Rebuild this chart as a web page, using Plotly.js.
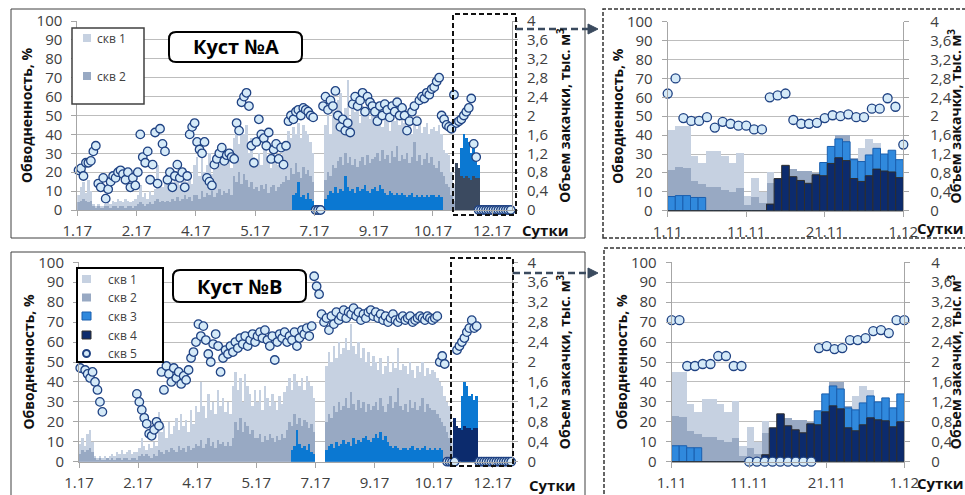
<!DOCTYPE html>
<html><head><meta charset="utf-8">
<script src="https://cdn.plot.ly/plotly-3.0.1.min.js"></script>
<style>html,body{margin:0;padding:0;background:#fff;}#chart{width:965px;height:495px;}</style>
</head><body><div id="chart"></div>
<script>
// ---------- DATA ----------
// Main charts: values per 2-day bin, injection in тыс. м3, water cut in %
const ticksMain = ['1.17','2.17','4.17','5.17','7.17','9.17','10.17','12.17'];
const ticksZoom = ['1.11','11.11','21.11','1.12'];

// Куст №A
const skv1_A = [.32,.48,.6,.36,.64,.4,.12,.08,.12,.08,.08,.12,
.16,.12,.2,.16,.24,.2,.16,.24,.2,.16,.2,.24,
.32,.52,.28,.36,.24,.4,.32,.44,.96,.56,.48,.64,
.56,.72,.48,.64,.8,.52,.68,.88,.6,.76,.56,.96,
1.12,.72,1.28,.8,.96,1.2,.76,1.04,.88,1.12,1,1.2,
.96,1.12,.88,1.52,1.76,1.4,1.68,1.6,1.8,1.2,1.52,1.12,
1.04,1.2,.96,1.36,1.52,1.12,.88,1.2,1.04,.96,1.12,1.28,
1.44,1.68,1.52,1.76,1.6,1.84,1.52,1.8,1.68,1.6,1.44,1.2,
0,0,0,0,1.8,2.08,1.6,2.2,1.92,2.32,2.48,2,
2.16,2.76,1.92,2.24,2.08,2.4,1.84,2.2,2,2.32,1.92,2.08,
2,1.84,2.16,1.76,2.08,1.92,1.68,2,1.88,2.12,1.8,1.96,
1.84,1.68,1.92,1.6,1.8,1.72,1.88,1.64,1.76,1.84,1.6,1.72,
1.76,1.68,1.8,1.6,1.28,1.2,1.16,.8,.56,0,0,0,
0,0,0,0,0,0,0,0,0,0,0,0,
0,0,0,0,0,0,0,0];
const skv2_A = [.16,.2,.24,.2,.16,.2,.08,.04,.08,.04,.04,.08,
.08,.04,.08,.08,.04,.08,.08,.04,.08,.08,.04,.08,
.12,.16,.12,.08,.12,.16,.12,.2,.24,.16,.2,.16,
.2,.16,.24,.2,.28,.2,.24,.32,.24,.28,.2,.32,
.32,.24,.4,.28,.36,.32,.4,.28,.36,.44,.32,.4,
.36,.44,.32,.72,.6,.8,.56,.76,.64,.48,.6,.44,
.48,.4,.52,.44,.56,.36,.48,.52,.4,.48,.56,.6,
.72,.64,.88,.76,1,.8,.68,.92,.76,.84,.72,.6,
0,0,0,0,.64,.8,.72,.96,.88,1.04,1.12,.96,
1.2,1,1.12,.96,1.08,.92,1.04,1.12,.96,1.16,1,1.08,
1.12,1.2,1.04,1.28,1.08,1.16,1,1.24,1.12,1.36,1.04,1.16,
1.08,1.2,1,1.12,1.44,1.04,1.16,.96,1.08,1.2,1,1.12,
.96,.88,1.04,.8,.72,.56,.48,.32,.2,0,0,0,
0,0,0,0,0,0,0,0,0,0,0,0,
0,0,0,0,0,0,0,0];
const skv3_A = [0,0,0,0,0,0,0,0,0,0,0,0,
0,0,0,0,0,0,0,0,0,0,0,0,
0,0,0,0,0,0,0,0,0,0,0,0,
0,0,0,0,0,0,0,0,0,0,0,0,
0,0,0,0,0,0,0,0,0,0,0,0,
0,0,0,0,0,0,0,0,0,0,0,0,
0,0,0,0,0,0,0,0,0,0,0,0,
0,0,0,.32,.36,.6,.28,.32,.24,.36,.24,.2,
0,0,0,0,.24,.32,.4,.36,.48,.36,.44,.4,
.72,.48,.4,.44,.36,.48,.4,.44,.52,.4,.36,.44,
.48,.4,.52,.44,.36,.32,.4,.36,.32,.36,.32,.36,
.32,.28,.32,.36,.28,.32,.28,.32,.28,.32,.28,.32,
.32,.28,.32,.28,0,0,0,0,0,0,0,1.32,
1.6,1.52,1.44,1.2,1.32,1.04,.96,0,0,0,0,0,
0,0,0,0,0,0,0,0];
const skv4_A = [0,0,0,0,0,0,0,0,0,0,0,0,
0,0,0,0,0,0,0,0,0,0,0,0,
0,0,0,0,0,0,0,0,0,0,0,0,
0,0,0,0,0,0,0,0,0,0,0,0,
0,0,0,0,0,0,0,0,0,0,0,0,
0,0,0,0,0,0,0,0,0,0,0,0,
0,0,0,0,0,0,0,0,0,0,0,0,
0,0,0,0,0,0,0,0,0,0,0,0,
0,0,0,0,0,0,0,0,0,0,0,0,
0,0,0,0,0,0,0,0,0,0,0,0,
0,0,0,0,0,0,0,0,0,0,0,0,
0,0,0,0,0,0,0,0,0,0,0,0,
0,0,0,0,0,0,0,0,0,1,.88,.72,
.68,.72,.68,.64,.72,.68,.68,0,0,0,0,0,
0,0,0,0,0,0,0,0];
const skv5_A = [21,22,18,25,25,26,31,34,14,12,17,6,
11,15,18,17,20,21,19,16,20,12,17,13,
20,40,28,25,31,16,24,41,14,43,35,31,
16,20,12,18,24,17,20,12,18,40,44,46,
36,32,30,36,17,15,13,24,27,30,33,26,
29,30,28,27,46,42,57,60,62,55,34,25,
36,48,40,38,34,41,27,32,35,27,33,24,
34,47,50,48,52,53,50,54,53,52,50,49,
0,0,0,55,60,53,58,55,63,50,44,48,
42,46,41,56,60,55,58,62,52,60,57,55,
52,47,55,50,56,53,49,55,52,57,50,54,
50,42,47,52,55,47,58,60,59,62,61,64,
65,68,70,50,48,45,44,43,61,46,47,48,
50,52,54,59,35,28,0,0,0,0,0,0,
0,0,0,0,0,0,0,0];

// Куст №B
const skv1_B = [.36,.48,.32,.56,.64,.4,.12,.08,.12,.08,.12,.08,
.12,.16,.12,.2,.16,.24,.16,.2,.24,.16,.2,.2,
.28,.48,.32,.24,.36,.28,.4,.32,1,.6,.72,.48,
.8,.56,.72,.88,.64,.96,.72,.84,.6,1.04,.76,1.12,
1,1.6,1.12,.88,1.36,1.04,1.2,.96,1.44,1.12,1.28,1,
1.2,.96,1.52,1.8,1.44,1.68,1.2,1.76,1.52,1.36,1.12,1.44,
1.2,1.44,1.04,1.52,1.28,1.12,1.36,1.2,1.04,1.32,1.16,1.4,
1.52,1.68,1.44,1.76,1.6,1.52,1.68,1.44,1.72,1.6,1.52,1.28,
0,0,0,0,1.92,2.2,2,2.32,2.08,2.4,2.16,2.28,
2.48,2.24,2.76,2.32,2.16,2.4,2.08,2.28,2,2.2,1.92,2.12,
2,1.84,2.08,1.76,1.92,2.12,1.8,2,1.88,2.28,1.84,1.96,
1.92,1.76,2,1.84,1.68,1.92,1.8,2,1.72,1.88,1.76,1.84,
1.8,1.68,1.6,1.52,1.32,1.2,1.12,.48,0,0,0,0,
0,0,0,0,0,0,0,0,0,0,0,0,
0,0,0,0,0,0,0,0];
const skv2_B = [.16,.24,.2,.24,.28,.2,.08,.04,.08,.04,.04,.08,
.04,.08,.04,.08,.08,.04,.08,.08,.04,.08,.08,.04,
.12,.16,.12,.16,.12,.08,.16,.12,.24,.2,.16,.24,
.2,.28,.24,.2,.32,.24,.28,.2,.32,.24,.28,.36,
.32,.44,.28,.36,.48,.32,.4,.28,.44,.36,.4,.32,
.4,.32,.48,.8,.64,.88,.6,.8,.72,.56,.64,.48,
.48,.56,.4,.52,.44,.56,.48,.4,.52,.44,.56,.48,
.64,.8,.72,.96,.76,.88,.72,.84,.8,.68,.76,.6,
0,0,0,0,.8,.96,.88,1.12,1,1.2,1.04,1.12,
1.28,1.08,1.4,1.16,1.04,1.24,1.08,1.2,1,1.16,1.04,1.12,
1.2,1.04,1.28,1.12,1,1.16,1.32,1.08,1.2,1.48,1.12,1.04,
1.16,1,1.24,1.08,1.2,1.04,1.12,1.28,1,1.16,1.08,1.04,
1.04,.96,.88,.8,.72,.6,.48,.24,0,0,0,0,
0,0,0,0,0,0,0,0,0,0,0,0,
0,0,0,0,0,0,0,0];
const skv3_B = [0,0,0,0,0,0,0,0,0,0,0,0,
0,0,0,0,0,0,0,0,0,0,0,0,
0,0,0,0,0,0,0,0,0,0,0,0,
0,0,0,0,0,0,0,0,0,0,0,0,
0,0,0,0,0,0,0,0,0,0,0,0,
0,0,0,0,0,0,0,0,0,0,0,0,
0,0,0,0,0,0,0,0,0,0,0,0,
0,0,.24,.32,.64,.36,.28,.32,.24,.36,.2,.16,
0,0,0,0,.24,.32,.36,.28,.4,.32,.36,.44,
.36,.4,.32,.48,.36,.44,.4,.48,.52,.44,.4,.48,
.56,.48,.6,.44,.52,.4,.32,.28,.32,.28,.24,.28,
.28,.24,.28,.32,.24,.28,.24,.28,.32,.24,.28,.24,
.28,.24,.28,.24,0,0,0,0,0,0,0,1.32,
1.6,1.52,1.32,1.36,1.24,1.32,0,0,0,0,0,0,
0,0,0,0,0,0,0,0];
const skv4_B = [0,0,0,0,0,0,0,0,0,0,0,0,
0,0,0,0,0,0,0,0,0,0,0,0,
0,0,0,0,0,0,0,0,0,0,0,0,
0,0,0,0,0,0,0,0,0,0,0,0,
0,0,0,0,0,0,0,0,0,0,0,0,
0,0,0,0,0,0,0,0,0,0,0,0,
0,0,0,0,0,0,0,0,0,0,0,0,
0,0,0,0,0,0,0,0,0,0,0,0,
0,0,0,0,0,0,0,0,0,0,0,0,
0,0,0,0,0,0,0,0,0,0,0,0,
0,0,0,0,0,0,0,0,0,0,0,0,
0,0,0,0,0,0,0,0,0,0,0,0,
0,0,0,0,0,0,0,0,.88,.72,.68,.64,
.72,.68,.68,.64,.68,.68,0,0,0,0,0,0,
0,0,0,0,0,0,0,0];
const skv5_B = [47,52,46,44,42,45,40,36,30,25,null,null,
null,null,null,null,null,null,null,null,null,null,null,34,
30,26,22,19,14,13,16,20,18,45,36,48,
44,40,47,42,45,39,43,41,46,52,55,60,
69,63,68,61,54,50,59,64,58,45,52,56,
54,58,55,60,57,62,59,63,58,61,64,60,
63,65,62,66,61,58,63,51,60,64,62,65,
60,63,61,65,58,62,66,64,67,63,68,93,
88,84,74,70,72,66,73,69,75,71,73,76,
72,75,74,77,73,75,71,74,72,75,76,73,
75,72,74,71,73,70,72,74,71,70,72,73,
71,72,73,70,71,72,73,72,71,73,72,71,
72,73,50,53,49,0,0,0,0,56,58,60,
62,65,67,71,67,68,0,0,0,0,0,0,
0,0,0,0,0,0,0,0];

// November detail (daily, 1.11 … 1.12)
const nov_skv1_A = [1.7,1.8,1.8,1.16,1.0,1.26,1.26,1.16,1.0,1.22,0.32,0.7,0.4,0.82,0,0,0,0,0,0,0,0,0,0,0,1.32,1.52,1.44,0,0,0];
const nov_skv2_A = [0.86,0.92,0.9,0.62,0.56,0.5,0.5,0.44,0.4,0.48,0.12,0.28,0.16,0.58,0,0,0.88,0.84,0.84,0.8,0,0,1.6,1.6,1.12,0,0,0,0,0,0];
const nov_skv3_A = [0.3,0.32,0.32,0.28,0.28,0,0,0,0,0,0,0,0,0,0,0,0,0,0,0,1.02,1.36,1.52,1.46,1.08,1.04,1.18,1.32,1.2,1.28,1.08];
const nov_skv4_A = [0,0,0,0,0,0,0,0,0,0,0,0,0,0.14,0.68,0.96,0.72,0.64,0.58,0.76,0.74,1.0,1.12,1.06,0.68,0.62,0.74,0.88,0.84,0.82,0.7];
const nov_skv5_A = [62,70,49,47.5,47.5,49.5,44,47,46,45,45,43,43,60,61,62,48,46,46,46.5,49,50.5,50,51,49.5,49.5,54,54,59.5,55,35];

const nov_skv1_B = [1.8,1.8,1.16,1.0,1.26,1.26,1.16,1.0,1.22,0.32,0.7,0.4,0.82,0,0,0,0,0,0,0,0,0,0,0,1.32,1.52,1.44,0,0,0,0];
const nov_skv2_B = [0.92,0.9,0.62,0.56,0.5,0.5,0.44,0.4,0.48,0.12,0.28,0.16,0.58,0,0,0.88,0.84,0.84,0.8,0,0,1.6,1.6,1.12,0,0,0,0,0,0,0];
const nov_skv3_B = [0.32,0.32,0.28,0.28,0,0,0,0,0,0,0,0,0,0,0,0,0,0,0,1.02,1.36,1.52,1.46,1.08,1.04,1.18,1.32,1.2,1.28,1.08,1.36];
const nov_skv4_B = [0,0,0,0,0,0,0,0,0,0,0,0,0.14,0.68,0.96,0.72,0.64,0.58,0.76,0.74,1.0,1.12,1.06,0.68,0.62,0.74,0.88,0.84,0.82,0.7,0.8];
const nov_skv5_B = [71,71,48,48,49,49,53,53,48,48,0,0,0,0,0,0,0,0,0,57,58,56.5,57,61,61,62,65.5,66,64.5,71,71];

const seriesNames = ['скв 1','скв 2','скв 3','скв 4','скв 5'];
const volTickVals = [0,0.4,0.8,1.2,1.6,2,2.4,2.8,3.2,3.6,4];
const volTickText = ['0','0,4','0,8','1,2','1,6','2','2,4','2,8','3,2','3,6','4'];

// ---------- STYLE ----------
const FONT = 'Open Sans, Noto Sans, sans-serif';
const C1 = '#c6d1e1', C2 = '#98a9c3', C3 = '#0b78d2', C4A = '#3b4a60', C4 = '#0c2b6d';
const C3Z = '#3089dd', C3ZL = '#1a5fae', C4ZL = '#2e2e2e';
const CF = '#d5eaf8', CL = '#1f4283';
const AX = '#a6a6a6', GRID = '#bdbdbd', TXT = '#404040';
const W = 965, H = 495;
const X = p => p / W, Y = p => 1 - p / H;

function mainTraces(s1, s2, s3, s4, s5, xa, yb, yo, c4) {
  const xs = s1.map((_, i) => 2 * i + 1);
  const bar = (arr, color, name) => ({type: 'bar', x: xs, y: arr, width: 2, xaxis: xa, yaxis: yb, name,
    marker: {color, line: {width: 0}}, hoverinfo: 'skip'});
  return [bar(s1, C1, seriesNames[0]), bar(s2, C2, seriesNames[1]), bar(s3, C3, seriesNames[2]), bar(s4, c4, seriesNames[3]),
    {type: 'scatter', mode: 'markers', x: s5.map((_, i) => 2 * i + 1), y: s5, xaxis: xa, yaxis: yo, name: seriesNames[4],
     cliponaxis: false, marker: {size: 8.5, color: CF, line: {color: CL, width: 1.3}}, hoverinfo: 'skip'}];
}
function zoomTraces(s1, s2, s3, s4, s5, xa, yb, yo) {
  const n = s1.length, wd = 30 / n;
  const xs = s1.map((_, i) => (i + 0.5) * wd);
  const bar = (arr, color, line, name) => ({type: 'bar', x: xs, y: arr, width: wd, xaxis: xa, yaxis: yb, name,
    marker: {color, line}, hoverinfo: 'skip'});
  return [bar(s1, C1, {width: 0}, seriesNames[0]), bar(s2, C2, {width: 0}, seriesNames[1]),
    bar(s3, C3Z, {color: C3ZL, width: 1}, seriesNames[2]), bar(s4, C4, {color: C4ZL, width: 1}, seriesNames[3]),
    {type: 'scatter', mode: 'markers', x: s5.map((_, i) => i), y: s5, xaxis: xa, yaxis: yo, name: seriesNames[4],
     cliponaxis: false, marker: {size: 9, color: CF, line: {color: CL, width: 1.3}}, hoverinfo: 'skip'}];
}

const data = [].concat(
  mainTraces(skv1_A, skv2_A, skv3_A, skv4_A, skv5_A, 'x', 'y', 'y2', C4A),
  zoomTraces(nov_skv1_A, nov_skv2_A, nov_skv3_A, nov_skv4_A, nov_skv5_A, 'x2', 'y3', 'y4'),
  mainTraces(skv1_B, skv2_B, skv3_B, skv4_B, skv5_B, 'x3', 'y5', 'y6', C4),
  zoomTraces(nov_skv1_B, nov_skv2_B, nov_skv3_B, nov_skv4_B, nov_skv5_B, 'x4', 'y7', 'y8')
);

const tickfont = {family: FONT, size: 15, color: TXT};
const titleFont = {family: FONT, size: 14, color: '#111'};
function xAx(dom, anchor, range, tv, tt) {
  return {domain: dom, anchor, range, tickvals: tv, ticktext: tt, showgrid: false, zeroline: false,
    showline: true, linecolor: AX, ticks: 'outside', ticklen: 5, tickcolor: AX, tickfont, ticklabelstandoff: 2, fixedrange: true};
}
function yVol(dom, anchor, lblOff, ttlOff) {
  return {domain: dom, anchor, side: 'right', range: [0, 4], tickvals: volTickVals, ticktext: volTickText,
    showgrid: true, gridcolor: GRID, gridwidth: 1, zeroline: false, showline: true, linecolor: AX,
    ticks: 'outside', ticklen: 5, tickcolor: AX, tickfont, ticklabelstandoff: lblOff,
    title: {text: '<b>Объем закачки, тыс. м<sup>3</sup></b>', font: titleFont, standoff: ttlOff}, fixedrange: true};
}
function yPct(dom, anchor, over) {
  return {domain: dom, anchor, overlaying: over, side: 'left', range: [0, 100], dtick: 10, tick0: 0,
    showgrid: false, zeroline: false, showline: true, linecolor: AX, ticks: 'outside', ticklen: 5, tickcolor: AX,
    tickfont, ticklabelstandoff: 6, title: {text: '<b>Обводненность, %</b>', font: titleFont, standoff: 0}, fixedrange: true};
}
const mainTV = [0, 48, 96, 144, 192, 240, 288, 336];
const zoomTV = [0, 10, 20, 30];

const domTopMainY = [Y(210), Y(21)], domTopZoomY = [Y(210.7), Y(21.7)];
const domBotY = [Y(461.7), Y(262.3)];

function rr(x0, y0, x1, y1, r) {
  const rx = r / W, ry = r / H, a = X(x0), b = X(x1), t = Y(y0), u = Y(y1);
  return `M${a + rx},${t} L${b - rx},${t} Q${b},${t} ${b},${t - ry} L${b},${u + ry} Q${b},${u} ${b - rx},${u} ` +
    `L${a + rx},${u} Q${a},${u} ${a},${u + ry} L${a},${t - ry} Q${a},${t} ${a + rx},${t} Z`;
}
const P = {xref: 'paper', yref: 'paper'};
const rect = (x0, y0, x1, y1, extra) => Object.assign({type: 'rect', x0: X(x0), x1: X(x1), y0: Y(y1), y1: Y(y0)}, P, extra);
const ARW = '#3a4a5e';
const shapes = [
  rect(11, 9, 585, 238, {line: {color: '#404040', width: 1}, layer: 'below'}),
  rect(11, 252, 585, 498, {line: {color: '#404040', width: 1}, layer: 'below'}),
  rect(603, 9, 970, 238, {line: {color: '#333', width: 1.5, dash: '4px,2px'}, layer: 'below'}),
  rect(604, 248, 970, 498, {line: {color: '#333', width: 1.5, dash: '4px,2px'}, layer: 'below'}),
  rect(453, 14, 516, 215, {line: {color: '#111', width: 2, dash: '5px,3px'}, layer: 'above'}),
  rect(451, 258, 513, 466, {line: {color: '#111', width: 2, dash: '5px,3px'}, layer: 'above'}),
  Object.assign({type: 'line', x0: X(516), x1: X(590), y0: Y(29), y1: Y(29), line: {color: ARW, width: 2.5, dash: '7px,4px'}}, P),
  Object.assign({type: 'path', path: `M${X(588)},${Y(24)} L${X(598)},${Y(29)} L${X(588)},${Y(34)} Z`, fillcolor: ARW, line: {color: ARW, width: 1}}, P),
  Object.assign({type: 'line', x0: X(513), x1: X(590), y0: Y(273), y1: Y(273), line: {color: ARW, width: 2.5, dash: '7px,4px'}}, P),
  Object.assign({type: 'path', path: `M${X(588)},${Y(268)} L${X(598)},${Y(273)} L${X(588)},${Y(278)} Z`, fillcolor: ARW, line: {color: ARW, width: 1}}, P),
  Object.assign({type: 'path', path: rr(169, 32, 302, 62, 7), fillcolor: '#fff', line: {color: '#000', width: 2}, layer: 'above'}, P),
  Object.assign({type: 'path', path: rr(173, 270, 306, 302, 7), fillcolor: '#fff', line: {color: '#000', width: 2}, layer: 'above'}, P),
  // legend A
  rect(72, 28, 144, 104, {fillcolor: '#fff', line: {color: '#404040', width: 1.5}, layer: 'above'}),
  rect(83, 34, 91, 42, {fillcolor: C1, line: {width: 0}, layer: 'above'}),
  rect(83, 72, 91, 80, {fillcolor: C2, line: {width: 0}, layer: 'above'}),
  // legend B
  rect(77, 268, 163, 362, {fillcolor: '#fff', line: {color: '#000', width: 2}, layer: 'above'}),
  rect(82, 275, 91, 283, {fillcolor: C1, line: {width: 0}, layer: 'above'}),
  rect(82, 293.5, 91, 301.5, {fillcolor: C2, line: {width: 0}, layer: 'above'}),
  rect(82, 312, 91, 320, {fillcolor: C3Z, line: {color: C3ZL, width: 1}, layer: 'above'}),
  rect(82, 331, 91, 339, {fillcolor: C4, line: {color: C4ZL, width: 1}, layer: 'above'}),
  Object.assign({type: 'circle', x0: X(83), x1: X(90), y0: Y(357), y1: Y(350), fillcolor: CF, line: {color: CL, width: 2}, layer: 'above'}, P)
];

const ann = (text, px, py, size, anchor, color) => Object.assign({text, x: X(px), y: Y(py), xanchor: anchor || 'left',
  yanchor: 'middle', showarrow: false, font: {family: FONT, size, color: color || TXT}}, P);
const annotations = [
  ann('<b>Куст №A</b>', 235.5, 47, 20, 'center', '#000'),
  ann('<b>Куст №B</b>', 239.5, 286, 20, 'center', '#000'),
  ann('<b>Сутки</b>', 544.5, 230, 15, 'center', '#111'),
  ann('<b>Сутки</b>', 552, 485, 15, 'center', '#111'),
  ann('<b>Сутки</b>', 940, 228, 15, 'center', '#111'),
  ann('<b>Сутки</b>', 940, 483, 15, 'center', '#111'),
  ann(seriesNames[0], 95, 38, 12), ann(seriesNames[1], 95, 76, 12),
  ann(seriesNames[0], 106, 279, 12), ann(seriesNames[1], 106, 297.5, 12), ann(seriesNames[2], 106, 316, 12),
  ann(seriesNames[3], 106, 335, 12), ann(seriesNames[4], 106, 353.5, 12)
];

const layout = {
  width: W, height: H, margin: {l: 0, r: 0, t: 0, b: 0},
  paper_bgcolor: '#fff', plot_bgcolor: '#fff', showlegend: false,
  barmode: 'overlay', bargap: 0, separators: ', ',
  font: {family: FONT, color: TXT},
  xaxis: xAx([X(77.3), X(512)], 'y', [0, 352], mainTV, ticksMain),
  yaxis: yVol(domTopMainY, 'x', 6, 12),
  yaxis2: yPct(domTopMainY, 'x', 'y'),
  xaxis2: xAx([X(667.7), X(903.3)], 'y3', [0, 30], zoomTV, ticksZoom),
  yaxis3: yVol(domTopZoomY, 'x2', 18, 12),
  yaxis4: yPct(domTopZoomY, 'x2', 'y3'),
  xaxis3: xAx([X(79), X(512.4)], 'y5', [0, 352], mainTV, ticksMain),
  yaxis5: yVol(domBotY, 'x3', 6, 12),
  yaxis6: yPct(domBotY, 'x3', 'y5'),
  xaxis4: xAx([X(671.7), X(904.3)], 'y7', [0, 30], zoomTV, ticksZoom),
  yaxis7: yVol(domBotY, 'x4', 18, 12),
  yaxis8: yPct(domBotY, 'x4', 'y7'),
  shapes, annotations
};
Plotly.newPlot('chart', data, layout, {staticPlot: true, displayModeBar: false});
</script></body></html>
